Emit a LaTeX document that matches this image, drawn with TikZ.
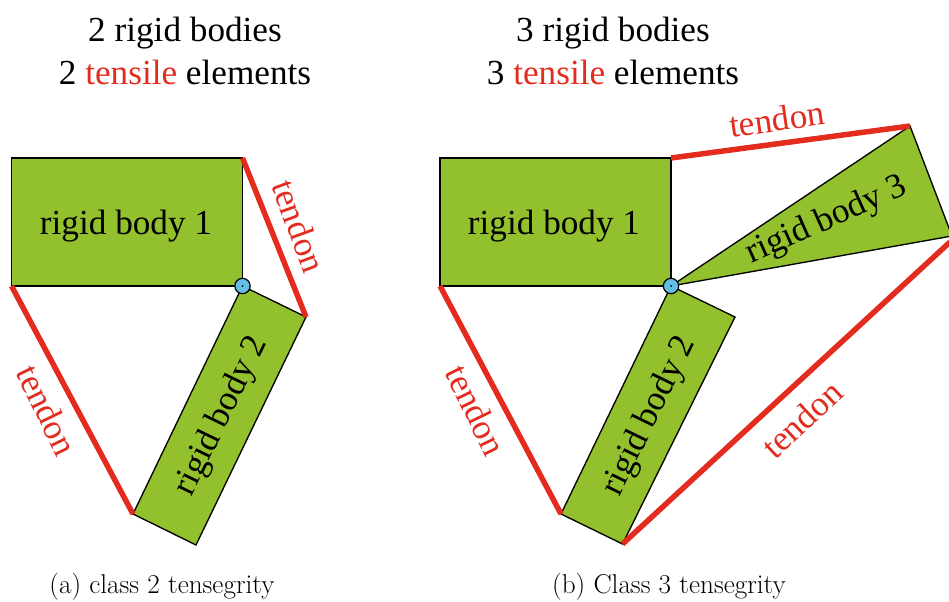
\documentclass[tikz,border=0pt]{standalone}
\usepackage{fontspec}
\setmainfont{Liberation Serif}
\newfontfamily\capfont{Latin Modern Roman}
\definecolor{bodygreen}{RGB}{147,192,45}
\definecolor{tendonred}{RGB}{227,43,30}
\definecolor{jointblue}{RGB}{100,190,230}
\tikzset{every picture/.style={line width=0.75pt}}
\tikzset{rigid/.style={draw=black,fill=bodygreen,line width=1pt,line join=miter},
	tendon/.style={draw=tendonred,line width=4.1pt},
	joint/.style={circle,draw=black,fill=jointblue,line width=0.9pt,inner sep=0pt,minimum size=11.5pt},
	bodytext/.style={font=\fontsize{26.4}{30}\selectfont,inner sep=0pt},
	tendontext/.style={font=\fontsize{26.4}{30}\selectfont,text=tendonred,inner sep=0pt},
	headtext/.style={font=\fontsize{26.4}{32}\selectfont,align=center,inner sep=0pt},
	captext/.style={font=\capfont\fontsize{20.4}{24}\selectfont,inner sep=0pt}}

\begin{document}
\begin{tikzpicture}[x=0.75pt,y=0.75pt,yscale=-1,xscale=1]
		\useasboundingbox (0,0) rectangle (949,602);
		
		%Corners of class 2 [left]
		\coordinate (a1) at (11.5,158);
		\coordinate (a2) at (242.5,158);
		\coordinate (a3) at (242.5,286);
		\coordinate (a4) at (11.5,286);
		\coordinate (a5) at (306,317);
		\coordinate (a6) at (196,545);
		\coordinate (a7) at (133,514);
		
		%Corners of class 3 [right]
		\coordinate (b1) at (440,158);
		\coordinate (b2) at (671,158);
		\coordinate (b3) at (671,286);
		\coordinate (b4) at (440,286);
		\coordinate (b5) at (735,317);
		\coordinate (b6) at (622.5,544);
		\coordinate (b7) at (561,514);
		\coordinate (b8) at (910,126);
		\coordinate (b9) at (952,236);
		\coordinate (b10) at (950,242);
		
		%Shapes: rigid bodies
		\draw [rigid] (a1) -- (a2) -- (a3) -- (a4) -- cycle ;
		\draw [rigid] (a3) -- (a5) -- (a6) -- (a7) -- cycle ;
		\draw [rigid] (b1) -- (b2) -- (b3) -- (b4) -- cycle ;
		\draw [rigid] (b3) -- (b5) -- (b6) -- (b7) -- cycle ;
		\draw [rigid] (b3) -- (b8) -- (b9) -- cycle ;
		
		%Straight Lines: tendons
		\draw [tendon] (a4) -- (a7) ;
		\draw [tendon] (a2) -- (a5) ;
		\draw [tendon] (b4) -- (b7) ;
		\draw [tendon] (b2) -- (b8) ;
		\draw [tendon] (b6) -- (b10) ;
		
		%Shape: joints with a dot at the centre
		\node [joint] (j1) at (a3) {} ;
		\node [joint] (j2) at (b3) {} ;
		\fill (j1.center) circle (1) ;
		\fill (j2.center) circle (1) ;
		
		%Body labels
		\node [bodytext] (l1) at (126,226) {rigid body 1} ;
		\node [bodytext,rotate=64] (l2) at (222,416) {rigid body 2} ;
		\node [bodytext] (l3) at (554,226) {rigid body 1} ;
		\node [bodytext,rotate=64] (l4) at (650,416) {rigid body 2} ;
		\node [bodytext,rotate=24] (l5) at (827,221) {rigid body 3} ;
		
		%Tendon labels
		\node [tendontext,rotate=-64] (t1) at (47,410) {tendon} ;
		\node [tendontext,rotate=-70] (t2) at (299,226) {tendon} ;
		\node [tendontext,rotate=-64] (t3) at (476,410) {tendon} ;
		\node [tendontext,rotate=8] (t4) at (777,119) {tendon} ;
		\node [tendontext,rotate=43] (t5) at (802,419) {tendon} ;
		
		%Headings
		\node [headtext] (h1) at (185,51) {2 rigid bodies\\2 \textcolor{tendonred}{tensile} elements} ;
		\node [headtext] (h2) at (613,51) {3 rigid bodies\\3 \textcolor{tendonred}{tensile} elements} ;
		
		%Captions
		\node [captext] (c1) at (162,587) {(a) class 2 tensegrity} ;
		\node [captext] (c2) at (669,587) {(b) Class 3 tensegrity} ;
\end{tikzpicture}
\end{document}
